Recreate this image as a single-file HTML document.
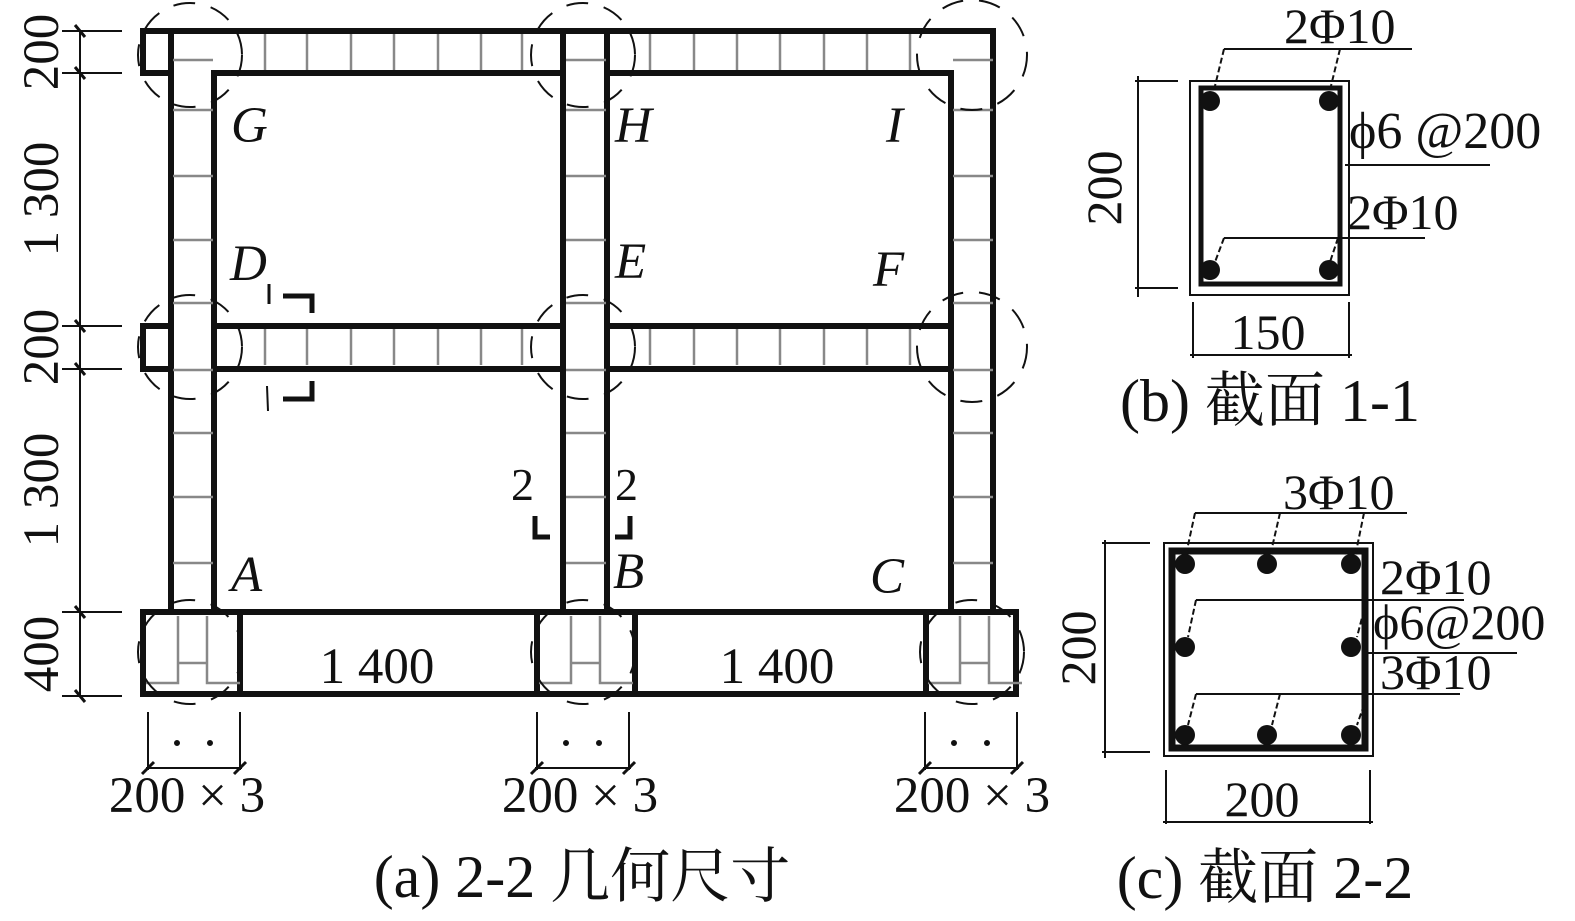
<!DOCTYPE html>
<html><head><meta charset="utf-8"><style>
html,body{margin:0;padding:0;background:#fff;}
svg{display:block;}
text{font-family:"Liberation Serif","Noto Serif CJK SC",serif;fill:#111;}
.it{font-style:italic;}
</style></head><body>
<svg width="1575" height="921" viewBox="0 0 1575 921" xmlns="http://www.w3.org/2000/svg">
<defs>
  <g id="cs">
    <line x1="0" y1="60" x2="40" y2="60"/><line x1="0" y1="110" x2="40" y2="110"/>
    <line x1="0" y1="176" x2="40" y2="176"/><line x1="0" y1="240" x2="40" y2="240"/>
    <line x1="0" y1="303" x2="40" y2="303"/><line x1="0" y1="370" x2="40" y2="370"/>
    <line x1="0" y1="433" x2="40" y2="433"/><line x1="0" y1="497" x2="40" y2="497"/>
    <line x1="0" y1="563" x2="40" y2="563"/>
  </g>
</defs>
<g stroke="#111" fill="none" stroke-width="6" stroke-linecap="square">
  <path d="M171 31 H143 V73 H171"/>
  <line x1="214" y1="31" x2="993" y2="31"/>
  <line x1="214" y1="73" x2="563" y2="73"/>
  <line x1="607" y1="73" x2="951" y2="73"/>
  <line x1="171" y1="31" x2="214" y2="31"/>
  <path d="M171 326 H143 V369 H171"/>
  <line x1="214" y1="326" x2="563" y2="326"/>
  <line x1="214" y1="369" x2="563" y2="369"/>
  <line x1="607" y1="326" x2="951" y2="326"/>
  <line x1="607" y1="369" x2="951" y2="369"/>
  <line x1="171" y1="31" x2="171" y2="612"/>
  <line x1="214" y1="73" x2="214" y2="612"/>
  <line x1="563" y1="31" x2="563" y2="612"/>
  <line x1="607" y1="31" x2="607" y2="612"/>
  <line x1="951" y1="73" x2="951" y2="612"/>
  <line x1="993" y1="31" x2="993" y2="612"/>
  <rect x="143" y="612" width="873" height="82"/>
  <line x1="240" y1="612" x2="240" y2="694"/>
  <line x1="537" y1="612" x2="537" y2="694"/>
  <line x1="635" y1="612" x2="635" y2="694"/>
  <line x1="926" y1="612" x2="926" y2="694"/>
</g>
<g stroke="#888" stroke-width="2.5">
  <use href="#cs" x="173"/><use href="#cs" x="566"/><use href="#cs" x="953"/>
  <g id="bs">
    <line x1="265" y1="34" x2="265" y2="70"/><line x1="307" y1="34" x2="307" y2="70"/>
    <line x1="351" y1="34" x2="351" y2="70"/><line x1="394" y1="34" x2="394" y2="70"/>
    <line x1="438" y1="34" x2="438" y2="70"/><line x1="481" y1="34" x2="481" y2="70"/>
    <line x1="522" y1="34" x2="522" y2="70"/>
    <line x1="650" y1="34" x2="650" y2="70"/><line x1="694" y1="34" x2="694" y2="70"/>
    <line x1="737" y1="34" x2="737" y2="70"/><line x1="780" y1="34" x2="780" y2="70"/>
    <line x1="824" y1="34" x2="824" y2="70"/><line x1="867" y1="34" x2="867" y2="70"/>
    <line x1="910" y1="34" x2="910" y2="70"/>
  </g>
  <use href="#bs" y="295"/>
  <g id="fd" fill="none">
    <path d="M146 683 H178 V616 M240 683 H207 V616 M178 663 H207"/>
  </g>
  <use href="#fd" x="393"/><use href="#fd" x="782"/>
</g>
<g stroke="#111" stroke-width="2" fill="none" stroke-dasharray="22 16">
  <circle cx="190" cy="55" r="52"/><circle cx="583" cy="55" r="52"/><circle cx="972" cy="55" r="55"/>
  <circle cx="190" cy="347" r="52"/><circle cx="583" cy="347" r="52"/><circle cx="972" cy="347" r="55"/>
  <circle cx="190" cy="652" r="52"/><circle cx="583" cy="652" r="52"/><circle cx="972" cy="652" r="52"/>
</g>
<g stroke="#111" stroke-width="2">
  <line x1="80" y1="31" x2="80" y2="696"/>
  <line x1="62" y1="31" x2="122" y2="31"/><line x1="62" y1="73" x2="122" y2="73"/>
  <line x1="62" y1="326" x2="122" y2="326"/><line x1="62" y1="369" x2="122" y2="369"/>
  <line x1="62" y1="612" x2="122" y2="612"/><line x1="62" y1="696" x2="122" y2="696"/>
  <g stroke-width="3">
  <line x1="75" y1="25" x2="85" y2="37"/><line x1="75" y1="67" x2="85" y2="79"/>
  <line x1="75" y1="320" x2="85" y2="332"/><line x1="75" y1="363" x2="85" y2="375"/>
  <line x1="75" y1="606" x2="85" y2="618"/><line x1="75" y1="690" x2="85" y2="702"/>
  </g>
  <g id="bd">
    <line x1="148" y1="712" x2="148" y2="770"/><line x1="240" y1="712" x2="240" y2="770"/>
    <line x1="146" y1="768" x2="242" y2="768"/>
    <line x1="142" y1="774" x2="154" y2="762" stroke-width="3"/><line x1="234" y1="774" x2="246" y2="762" stroke-width="3"/>
    <circle cx="177" cy="743" r="2" fill="#111"/><circle cx="210" cy="743" r="2" fill="#111"/>
  </g>
  <use href="#bd" x="389"/><use href="#bd" x="777"/>
</g>
<g font-size="51">
  <text transform="translate(58 52) rotate(-90)" text-anchor="middle">200</text>
  <text transform="translate(58 199) rotate(-90)" text-anchor="middle">1 300</text>
  <text transform="translate(58 347) rotate(-90)" text-anchor="middle">200</text>
  <text transform="translate(58 490) rotate(-90)" text-anchor="middle">1 300</text>
  <text transform="translate(58 654) rotate(-90)" text-anchor="middle">400</text>
  <text x="377" y="683" text-anchor="middle">1 400</text>
  <text x="777" y="683" text-anchor="middle">1 400</text>
  <text x="187" y="812" text-anchor="middle">200 × 3</text>
  <text x="580" y="812" text-anchor="middle">200 × 3</text>
  <text x="972" y="812" text-anchor="middle">200 × 3</text>
  <g class="it">
  <text x="231" y="142">G</text><text x="615" y="142">H</text><text x="886" y="142">I</text>
  <text x="230" y="280">D</text><text x="615" y="278">E</text><text x="873" y="286">F</text>
  <text x="231" y="591">A</text><text x="613" y="588">B</text><text x="870" y="593">C</text>
  </g>
  <text x="511" y="500" font-size="46">2</text><text x="615" y="500" font-size="46">2</text>
</g>
<g stroke="#111" fill="none" stroke-width="5">
  <path d="M283 296 H312 V313"/><path d="M283 399 H312 V381"/>
  <path d="M535 516 V537 H550"/><path d="M630 516 V537 H615"/>
  <line x1="269" y1="284" x2="269" y2="304" stroke-width="3"/>
  <line x1="267" y1="386" x2="268" y2="411" stroke-width="2"/>
</g>
<text x="582" y="897" font-size="60" text-anchor="middle">(a) 2-2 几何尺寸</text>

<g stroke="#111" fill="none">
  <rect x="1190" y="81" width="159" height="214" stroke-width="2"/>
  <rect x="1201" y="88" width="139" height="196" stroke-width="5"/>
  <g stroke-width="2">
  <line x1="1138" y1="76" x2="1138" y2="297"/>
  <line x1="1135" y1="81" x2="1178" y2="81"/><line x1="1135" y1="288" x2="1178" y2="288"/>
  <line x1="1193" y1="302" x2="1193" y2="358"/><line x1="1349" y1="302" x2="1349" y2="358"/>
  <line x1="1190" y1="355" x2="1352" y2="355"/>
  <line x1="1224" y1="49" x2="1412" y2="49"/>
  <line x1="1224" y1="49" x2="1214" y2="90" stroke-dasharray="6 3"/>
  <line x1="1340" y1="49" x2="1330" y2="90" stroke-dasharray="6 3"/>
  <line x1="1345" y1="165" x2="1490" y2="165"/>
  <line x1="1224" y1="238" x2="1425" y2="238"/>
  <line x1="1224" y1="238" x2="1215" y2="262" stroke-dasharray="6 3"/>
  <line x1="1338" y1="238" x2="1330" y2="262" stroke-dasharray="6 3"/>
  </g>
</g>
<g fill="#111">
  <circle cx="1210" cy="101" r="10"/><circle cx="1329" cy="101" r="10"/>
  <circle cx="1210" cy="270" r="10"/><circle cx="1329" cy="270" r="10"/>
</g>
<g font-size="50">
  <text x="1284" y="43">2Φ10</text>
  <text x="1349" y="148" font-size="52">ϕ6 @200</text>
  <text x="1347" y="229">2Φ10</text>
  <text transform="translate(1121 188) rotate(-90)" text-anchor="middle">200</text>
  <text x="1268" y="349" text-anchor="middle">150</text>
</g>
<text x="1270" y="421" font-size="60" text-anchor="middle">(b) 截面 1-1</text>

<g stroke="#111" fill="none">
  <rect x="1164" y="543" width="209" height="213" stroke-width="2"/>
  <rect x="1172" y="551" width="193" height="197" stroke-width="7"/>
  <g stroke-width="2">
  <line x1="1105" y1="540" x2="1105" y2="758"/>
  <line x1="1102" y1="543" x2="1150" y2="543"/><line x1="1102" y1="752" x2="1150" y2="752"/>
  <line x1="1166" y1="770" x2="1166" y2="824"/><line x1="1370" y1="770" x2="1370" y2="824"/>
  <line x1="1163" y1="822" x2="1373" y2="822"/>
  <line x1="1195" y1="513" x2="1407" y2="513"/>
  <line x1="1195" y1="513" x2="1187" y2="550" stroke-dasharray="6 3"/>
  <line x1="1280" y1="513" x2="1271" y2="552" stroke-dasharray="6 3"/>
  <line x1="1364" y1="513" x2="1356" y2="552" stroke-dasharray="6 3"/>
  <line x1="1196" y1="600" x2="1464" y2="600"/>
  <line x1="1196" y1="600" x2="1188" y2="637" stroke-dasharray="6 3"/>
  <line x1="1364" y1="610" x2="1357" y2="637" stroke-dasharray="6 3"/>
  <line x1="1365" y1="653" x2="1517" y2="653"/>
  <line x1="1196" y1="694" x2="1460" y2="694"/>
  <line x1="1196" y1="694" x2="1188" y2="725" stroke-dasharray="6 3"/>
  <line x1="1280" y1="694" x2="1272" y2="725" stroke-dasharray="6 3"/>
  <line x1="1364" y1="705" x2="1357" y2="725" stroke-dasharray="6 3"/>
  </g>
</g>
<g fill="#111">
  <circle cx="1185" cy="564" r="10"/><circle cx="1267" cy="564" r="10"/><circle cx="1351" cy="564" r="10"/>
  <circle cx="1185" cy="647" r="10"/><circle cx="1351" cy="647" r="10"/>
  <circle cx="1185" cy="735" r="10"/><circle cx="1267" cy="735" r="10"/><circle cx="1351" cy="735" r="10"/>
</g>
<g font-size="50">
  <text x="1283" y="509">3Φ10</text>
  <text x="1380" y="594">2Φ10</text>
  <text x="1373" y="639">ϕ6@200</text>
  <text x="1380" y="689">3Φ10</text>
  <text transform="translate(1095 648) rotate(-90)" text-anchor="middle">200</text>
  <text x="1262" y="816" text-anchor="middle">200</text>
</g>
<text x="1265" y="898" font-size="60" text-anchor="middle">(c) 截面 2-2</text>
</svg>
</body></html>
